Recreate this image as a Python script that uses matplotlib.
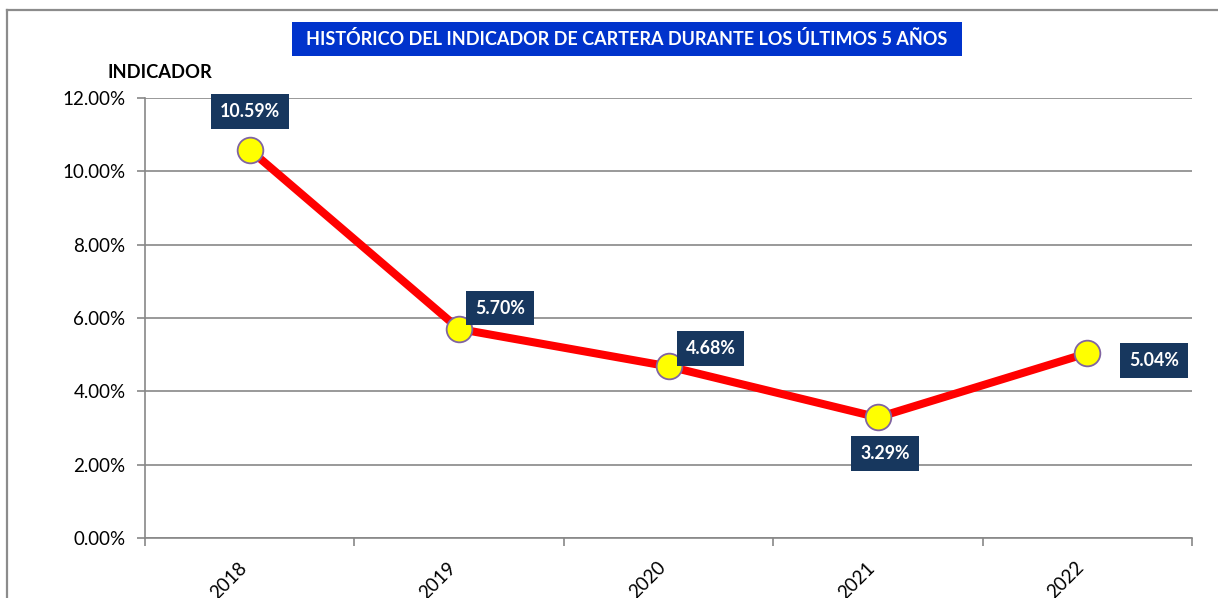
import matplotlib
matplotlib.use("Agg")
from matplotlib import pyplot as plt
from matplotlib.lines import Line2D
from matplotlib.patches import Rectangle
from matplotlib.ticker import FuncFormatter, FixedLocator

years = ["2018", "2019", "2020", "2021", "2022"]
indicador = [0.1059, 0.0570, 0.0468, 0.0329, 0.0504]
labels = ["10.59%", "5.70%", "4.68%", "3.29%", "5.04%"]
# label box offset from its point, in pixels
offsets = [(0, 38), (41, 21), (42, 18), (7, -36), (67, -7)]

title = "HISTÓRICO DEL INDICADOR DE CARTERA DURANTE LOS ÚLTIMOS 5 AÑOS"
grid_c = "#878787"
navy = "#17375e"

plt.rcParams["font.family"] = ["Lato", "DejaVu Sans"]

W, H = 1218, 598
fig = plt.figure(figsize=(W / 100, H / 100), dpi=100)
ax = fig.add_axes([145 / W, (H - 538) / H, (1192 - 145) / W, (538 - 98) / H])

x = list(range(len(years)))
ax.plot(x, indicador, color="#ff0000", lw=5.8, zorder=3, solid_capstyle="round")
ax.plot(x, indicador, ls="none", marker="o", ms=18.5, mfc="#ffff00",
        mec="#8064a2", mew=1.3, zorder=4)

for xi, yi, lab, (dx, dy) in zip(x, indicador, labels, offsets):
    ax.annotate(lab, (xi, yi), xytext=(dx, dy), textcoords="offset pixels",
                ha="center", va="center", color="white", fontsize=12.8,
                fontweight="bold", zorder=5,
                bbox=dict(boxstyle="square,pad=0.5", fc=navy, ec="none"))

ax.set_xlim(-0.5, len(years) - 0.5)
ax.set_ylim(0, 0.12)
ax.set_yticks([0, 0.02, 0.04, 0.06, 0.08, 0.10, 0.12])
ax.yaxis.set_major_formatter(FuncFormatter(lambda v, p: f"{v * 100:.2f}%"))
ax.grid(axis="y", color=grid_c, lw=1.2)
ax.set_axisbelow(True)

ax.set_xticks(x)
ax.set_xticklabels(years, rotation=45, ha="right", fontsize=13.5)
ax.xaxis.set_minor_locator(FixedLocator([i - 0.5 for i in range(len(years) + 1)]))
ax.tick_params(axis="x", which="major", length=0, pad=15)
ax.tick_params(axis="x", which="minor", length=6, width=1.2, color=grid_c)
ax.tick_params(axis="y", length=6, width=1.2, color=grid_c, labelsize=13.5, pad=8)

for s in ["top", "right"]:
    ax.spines[s].set_visible(False)
for s in ["left", "bottom"]:
    ax.spines[s].set_color(grid_c)
    ax.spines[s].set_linewidth(1.2)

# outer frame
fig.add_artist(Line2D([7 / W, 1], [1 - 10 / H, 1 - 10 / H], color="#8c8c8c", lw=1.6))
fig.add_artist(Line2D([7 / W, 7 / W], [0, 1 - 10 / H], color="#8c8c8c", lw=1.6))

# title box
fig.add_artist(Rectangle((292 / W, 1 - 56 / H), (962 - 292) / W, 34 / H,
                         transform=fig.transFigure, fc="#0033cc", ec="none"))
fig.text(627 / W, 1 - 39 / H, title, ha="center", va="center", color="white",
         fontsize=13, fontweight="bold")

fig.text(160 / W, 1 - 72 / H, "INDICADOR", ha="center", va="center",
         fontsize=13.2, fontweight="bold")

fig.savefig("out.png", dpi=100)
